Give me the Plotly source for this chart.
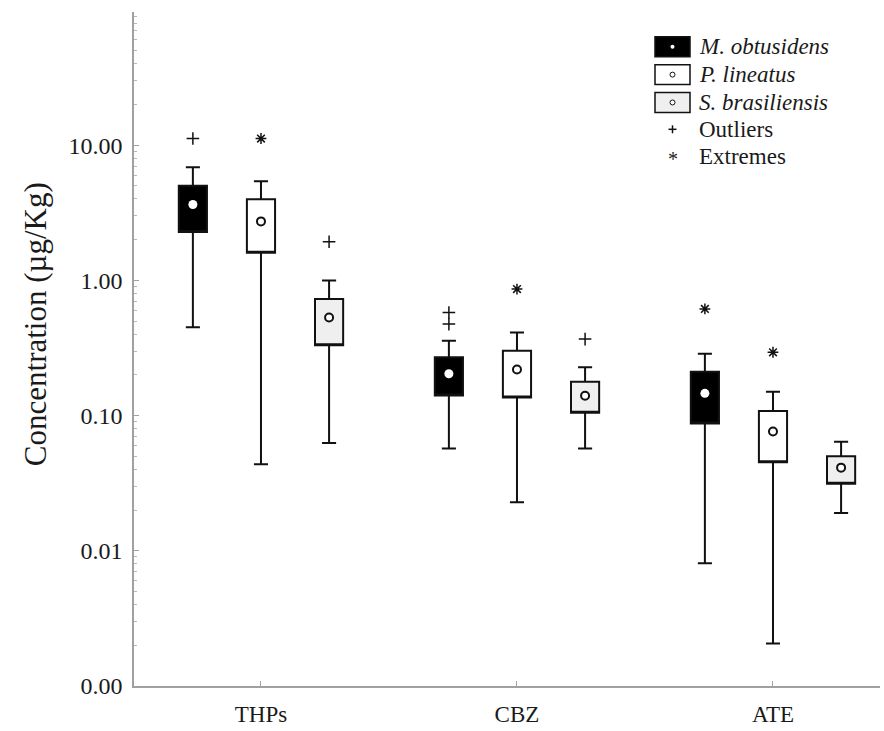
import plotly.graph_objects as go

categories = ["THPs", "CBZ", "ATE"]
species = ["M. obtusidens", "P. lineatus", "S. brasiliensis"]

# per species: values for THPs, CBZ, ATE
upper_whisker = {
    "M. obtusidens": [6.86, 0.358, 0.287],
    "P. lineatus": [5.41, 0.412, 0.150],
    "S. brasiliensis": [1.00, 0.228, 0.064],
}
q3_vals = {
    "M. obtusidens": [5.02, 0.270, 0.211],
    "P. lineatus": [3.99, 0.302, 0.108],
    "S. brasiliensis": [0.729, 0.178, 0.050],
}
mean_vals = {
    "M. obtusidens": [3.64, 0.204, 0.146],
    "P. lineatus": [2.73, 0.219, 0.0762],
    "S. brasiliensis": [0.532, 0.140, 0.0412],
}
q1_vals = {
    "M. obtusidens": [2.28, 0.141, 0.0873],
    "P. lineatus": [1.60, 0.136, 0.0451],
    "S. brasiliensis": [0.331, 0.105, 0.0313],
}
lower_whisker = {
    "M. obtusidens": [0.451, 0.0572, 0.0081],
    "P. lineatus": [0.0436, 0.0229, 0.00206],
    "S. brasiliensis": [0.0626, 0.0572, 0.0190],
}

# outliers (+) and extremes (*): (category index, species index, value)
outliers = [(0, 0, 11.2), (0, 2, 1.93), (1, 0, 0.578), (1, 0, 0.475), (1, 2, 0.368)]
extremes = [(0, 1, 11.2), (1, 1, 0.863), (2, 0, 0.615), (2, 1, 0.294)]

legend_labels = ["<i>M. obtusidens</i>", "<i>P. lineatus</i>", "<i>S. brasiliensis</i>", "Outliers", "Extremes"]
y_title = "Concentration (µg/Kg)"

fills = ["#000000", "#ffffff", "#efefef"]
offsets = [-0.266, 0.0, 0.266]
box_w = 0.11
font_family = "Liberation Serif, Times New Roman, serif"
ink = "#1a1a1a"

# plot-area pixel frame (for placing legend/title in paper coords)
L, R, T, B = 134, 880, 12, 690
def px(x):
    return (x - L) / (R - L)
def py(y):
    return (B - y) / (B - T)

fig = go.Figure()

for si, sp in enumerate(species):
    xs = [ci + offsets[si] for ci in range(len(categories))]
    fig.add_trace(go.Box(
        x=xs,
        q1=q1_vals[sp], median=q1_vals[sp], q3=q3_vals[sp],
        lowerfence=lower_whisker[sp], upperfence=upper_whisker[sp],
        width=box_w, whiskerwidth=0.5,
        fillcolor=fills[si],
        line=dict(color="#111111", width=2),
        boxpoints=False, name=sp, showlegend=False, hoverinfo="skip",
    ))

for si, sp in enumerate(species):
    xs = [ci + offsets[si] for ci in range(len(categories))]
    if si == 0:
        mk = dict(symbol="circle", size=9, color="#ffffff", line=dict(width=0))
    else:
        mk = dict(symbol="circle", size=8, color="#ffffff", line=dict(width=2, color="#111111"))
    fig.add_trace(go.Scatter(x=xs, y=mean_vals[sp], mode="markers", marker=mk,
                             showlegend=False, hoverinfo="skip"))

fig.add_trace(go.Scatter(
    x=[c + offsets[s] for c, s, v in outliers],
    y=[v for c, s, v in outliers],
    mode="markers", name="Outliers", showlegend=False,
    marker=dict(symbol="cross-thin", size=9, color="#111111", line=dict(width=1.5, color="#111111")),
    hoverinfo="skip",
))
fig.add_trace(go.Scatter(
    x=[c + offsets[s] for c, s, v in extremes],
    y=[v for c, s, v in extremes],
    mode="markers", name="Extremes", showlegend=False,
    marker=dict(symbol="asterisk", size=9, color="#111111", line=dict(width=1.5, color="#111111")),
    hoverinfo="skip",
))

# manual legend (glyphs + labels)
rows = [47, 75, 103, 130, 157]
shapes = []
annotations = []
for i, lab in enumerate(legend_labels):
    yc = rows[i]
    annotations.append(dict(
        x=px(697), y=py(yc), xref="paper", yref="paper", xanchor="left", yanchor="middle",
        text=lab, showarrow=False, font=dict(size=23, family=font_family, color=ink),
    ))
    if i < 3:
        shapes.append(dict(type="rect", xref="paper", yref="paper",
                           x0=px(655), x1=px(690), y0=py(yc - 10), y1=py(yc + 10),
                           fillcolor=fills[i], line=dict(color="#111111", width=1.5)))
        if i == 0:
            shapes.append(dict(type="circle", xref="paper", yref="paper",
                               x0=px(670.5), x1=px(674.5), y0=py(yc - 2), y1=py(yc + 2),
                               fillcolor="#ffffff", line=dict(width=0)))
        else:
            shapes.append(dict(type="circle", xref="paper", yref="paper",
                               x0=px(670), x1=px(675), y0=py(yc - 2.5), y1=py(yc + 2.5),
                               fillcolor="#ffffff", line=dict(color="#111111", width=1)))
    elif i == 3:
        shapes.append(dict(type="line", xref="paper", yref="paper",
                           x0=px(672.5), x1=px(672.5), y0=py(yc - 4), y1=py(yc + 4),
                           line=dict(color="#111111", width=1.5)))
        shapes.append(dict(type="line", xref="paper", yref="paper",
                           x0=px(668.5), x1=px(676.5), y0=py(yc), y1=py(yc),
                           line=dict(color="#111111", width=1.5)))
    else:
        annotations.append(dict(
            x=px(672.5), y=py(yc + 3), xref="paper", yref="paper", xanchor="center", yanchor="middle",
            text="*", showarrow=False, font=dict(size=20, family=font_family, color=ink),
        ))

annotations.append(dict(
    x=px(35), y=py(326), xref="paper", yref="paper", xanchor="center", yanchor="middle",
    text=y_title, textangle=-90, showarrow=False,
    font=dict(size=31, family=font_family, color=ink),
))

fig.update_layout(
    width=884, height=731,
    margin=dict(l=L, r=884 - R, t=T, b=731 - B),
    paper_bgcolor="white", plot_bgcolor="white",
    font=dict(family=font_family, color=ink),
    showlegend=False,
    shapes=shapes, annotations=annotations,
    xaxis=dict(
        range=[-0.496, 2.418], tickvals=[0, 1, 2], ticktext=categories,
        showline=True, linecolor="#a0a0a0", linewidth=1.5,
        ticks="inside", ticklen=5, tickcolor="#a0a0a0",
        showgrid=False, zeroline=False,
        tickfont=dict(size=23, family=font_family, color=ink),
        ticklabelstandoff=7,
    ),
    yaxis=dict(
        type="log", range=[-3, 1.985], dtick=1, tickformat=".2f",
        showline=True, linecolor="#a0a0a0", linewidth=1.5,
        ticks="inside", ticklen=5, tickcolor="#a0a0a0",
        minor=dict(ticks="inside", ticklen=3, tickcolor="#b8b8b8", dtick="D1"),
        showgrid=False, zeroline=False,
        tickfont=dict(size=24, family=font_family, color=ink),
        ticklabelstandoff=5,
    ),
)

fig.write_html("out.html", config={"displayModeBar": False},
               post_script="document.body.style.margin='0px';document.body.style.overflow='hidden';")
